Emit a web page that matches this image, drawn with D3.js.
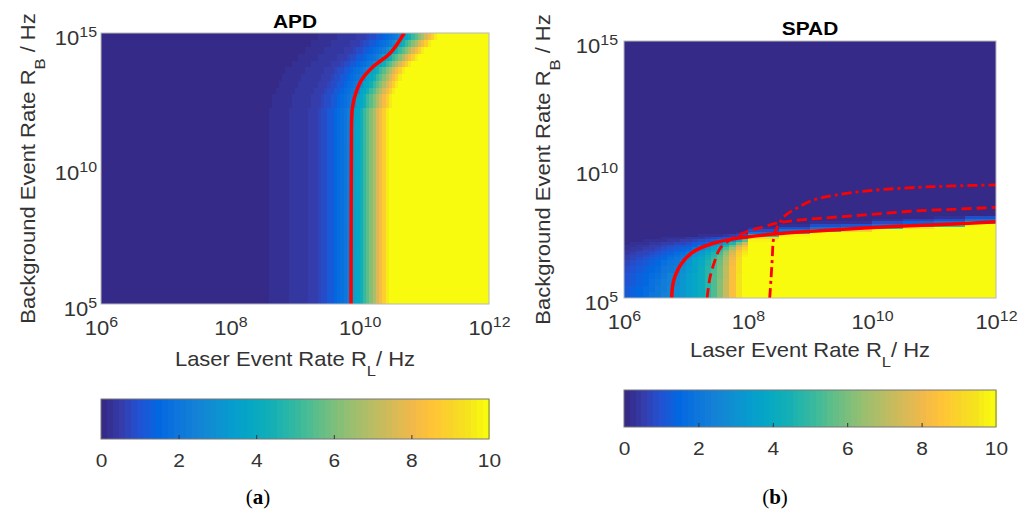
<!DOCTYPE html>
<html>
<head>
<meta charset="utf-8">
<script src="https://cdn.jsdelivr.net/npm/d3@7"></script>
<style>
  body { margin: 0; background: #fff; }
  svg text { font-family: "Liberation Sans", Arial, Helvetica, sans-serif; fill: #333; }
</style>
</head>
<body>
<svg id="fig" width="1027" height="513"></svg>
<script>
// ---- DATA (all positions are log10 of the rate in Hz) ----

// APD: colour value across R_L, in 0.05 decade steps starting at 10^8
var APD_PROFILE_START = 8.0;
var APD_PROFILE_STEP = 0.05;
var APD_PROFILE = [
  0, 0, 0, 0, 0, 0,
  0.05, 0.05, 0.05, 0.05, 0.05, 0.05,
  0.24, 0.24, 0.24, 0.24, 0.24, 0.24,
  0.4, 0.4, 0.4, 0.4, 0.4, 0.4,
  0.55, 0.55, 0.6, 0.75, 0.8, 0.85,
  1.1, 1.2, 1.5, 1.65, 1.8, 1.95,
  2.3, 2.8, 3.6, 3.9, 4.3, 5.0,
  5.5, 6.2, 6.8, 7.5, 8.2, 8.9,
  9.6, 10, 10, 10, 10, 10, 10, 10, 10, 10, 10, 10
];
// APD rows of R_B and how many 0.05 decade steps each row is pushed to the right
var APD_ROW_EDGES = [5, 12.25, 12.5, 12.75, 13, 13.25, 13.5, 13.75, 14, 14.25, 14.5, 14.75, 15];
var APD_ROW_SHIFT = [0, 1, 1, 2, 3, 4, 5, 7, 9, 11, 13, 15];
// APD red contour
var APD_LINE_RL = [9.866, 9.868, 9.872, 9.877, 9.89, 9.94, 10.03, 10.21, 10.469, 10.69];
var APD_LINE_RB = [5.0, 8.0, 10.5, 11.85, 12.28, 12.78, 13.27, 13.76, 14.25, 15.0];

// SPAD grid: column / row edges, then one list per column (bottom -> top), missing = 0
var SPAD_COL_EDGES = [6.0, 6.1, 6.2, 6.3, 6.4, 6.5, 6.6, 6.7, 6.8, 6.9, 7.0, 7.1, 7.2, 7.3, 7.4, 7.5, 7.6, 7.7, 7.8, 7.9,
  8.0, 8.5, 9.0, 9.5, 10.0, 10.5, 11.0, 11.5, 12.0];
var SPAD_ROW_EDGES = [5.0, 5.25, 5.5, 5.75, 6.0, 6.25, 6.5, 6.6, 6.7, 6.8, 6.9, 7.0, 7.1, 7.2, 7.3, 7.4, 7.5, 7.6,
  7.7, 7.8, 7.9, 8.0, 8.1, 8.2, 15];
var SPAD_VALUES = [
  [1.2, 1.15, 1.05, 0.95, 0.85, 0.72, 0.6, 0.52, 0.45, 0.36, 0.28, 0.2, 0.13, 0.07, 0.03],
  [1.35, 1.3, 1.2, 1.1, 0.98, 0.84, 0.72, 0.63, 0.55, 0.45, 0.35, 0.26, 0.17, 0.1, 0.05],
  [1.5, 1.45, 1.35, 1.25, 1.12, 0.97, 0.84, 0.75, 0.65, 0.54, 0.43, 0.32, 0.22, 0.13, 0.06],
  [1.7, 1.65, 1.55, 1.45, 1.3, 1.12, 0.98, 0.88, 0.77, 0.64, 0.52, 0.4, 0.28, 0.17, 0.08],
  [1.9, 1.85, 1.75, 1.65, 1.5, 1.3, 1.15, 1.03, 0.9, 0.76, 0.62, 0.48, 0.34, 0.21, 0.1],
  [2.1, 2.05, 1.95, 1.85, 1.7, 1.5, 1.33, 1.2, 1.05, 0.9, 0.74, 0.57, 0.41, 0.26, 0.13, 0.05],
  [2.35, 2.3, 2.2, 2.1, 1.93, 1.72, 1.53, 1.38, 1.22, 1.05, 0.87, 0.68, 0.49, 0.31, 0.16, 0.06],
  [2.6, 2.55, 2.45, 2.35, 2.15, 1.93, 1.73, 1.57, 1.4, 1.2, 1.0, 0.8, 0.58, 0.37, 0.19, 0.07],
  [2.9, 2.85, 2.75, 2.5, 2.25, 2.05, 1.9, 1.75, 1.6, 1.4, 1.18, 0.95, 0.7, 0.45, 0.23, 0.08],
  [3.2, 3.2, 3.15, 3.1, 2.9, 2.5, 2.15, 1.95, 1.75, 1.55, 1.3, 1.05, 0.78, 0.5, 0.26, 0.09],
  [3.5, 3.5, 3.5, 3.45, 3.35, 3.2, 2.95, 2.5, 2.1, 1.8, 1.5, 1.2, 0.9, 0.6, 0.35, 0.12],
  [3.8, 3.8, 3.8, 3.75, 3.7, 3.6, 3.45, 3.25, 3.0, 2.5, 2.0, 1.5, 1.1, 0.7, 0.4, 0.15],
  [4.2, 4.2, 4.2, 4.15, 4.1, 4.0, 3.85, 3.65, 3.4, 3.0, 2.5, 1.9, 1.3, 0.8, 0.45, 0.18],
  [4.8, 4.8, 4.8, 4.75, 4.7, 4.6, 4.45, 4.25, 4.0, 3.6, 3.1, 2.5, 1.7, 1.0, 0.55, 0.2],
  [5.4, 5.4, 5.4, 5.35, 5.3, 5.2, 5.0, 4.8, 4.55, 4.2, 3.7, 3.1, 2.3, 1.4, 0.7, 0.28, 0.08],
  [6.1, 6.1, 6.1, 6.05, 6.0, 5.9, 5.7, 5.5, 5.25, 4.9, 4.4, 3.6, 2.6, 1.6, 0.8, 0.3, 0.1],
  [7.2, 7.2, 7.2, 7.15, 7.1, 7.0, 6.85, 6.65, 6.4, 6.0, 5.4, 4.6, 3.6, 2.1, 1.0, 0.4, 0.12],
  [8.4, 8.4, 8.4, 8.35, 8.3, 8.2, 8.05, 7.85, 7.6, 7.2, 6.6, 5.8, 4.6, 2.6, 1.2, 0.5, 0.15],
  [9.4, 9.4, 9.4, 9.4, 9.35, 9.3, 9.2, 9.05, 8.85, 8.5, 8.0, 7.2, 6.0, 4.2, 2.0, 0.7, 0.2],
  [10, 10, 10, 10, 10, 9.95, 9.9, 9.8, 9.65, 9.4, 9.0, 8.4, 7.4, 5.6, 2.8, 1.0, 0.3],
  [10, 10, 10, 10, 10, 10, 10, 10, 10, 10, 10, 10, 10, 9.8, 9.2, 5, 2, 0.8, 0.2],
  [10, 10, 10, 10, 10, 10, 10, 10, 10, 10, 10, 10, 10, 10, 10, 9.8, 5, 2, 0.8, 0.2],
  [10, 10, 10, 10, 10, 10, 10, 10, 10, 10, 10, 10, 10, 10, 10, 10, 10, 5, 2, 0.8, 0.2],
  [10, 10, 10, 10, 10, 10, 10, 10, 10, 10, 10, 10, 10, 10, 10, 10, 10, 9, 3.5, 1.2, 0.3],
  [10, 10, 10, 10, 10, 10, 10, 10, 10, 10, 10, 10, 10, 10, 10, 10, 10, 10, 5, 2, 0.8, 0.2],
  [10, 10, 10, 10, 10, 10, 10, 10, 10, 10, 10, 10, 10, 10, 10, 10, 10, 10, 9.5, 4, 1.5, 0.5],
  [10, 10, 10, 10, 10, 10, 10, 10, 10, 10, 10, 10, 10, 10, 10, 10, 10, 10, 10, 5, 2, 0.8, 0.2],
  [10, 10, 10, 10, 10, 10, 10, 10, 10, 10, 10, 10, 10, 10, 10, 10, 10, 10, 10, 10, 5, 2, 0.8]
];
// SPAD red curves
var SPAD_SOLID_RL = [6.77, 6.78, 6.82, 6.93, 7.12, 7.44, 7.82, 8.41, 9.16, 10.24, 11.31, 12.0];
var SPAD_SOLID_RB = [5.0, 5.4, 5.83, 6.35, 6.80, 7.13, 7.32, 7.49, 7.62, 7.77, 7.88, 7.97];
var SPAD_DASH_RL = [7.34, 7.39, 7.47, 7.55, 7.71, 7.98, 8.25, 8.46, 8.73, 9.16, 9.70, 10.24, 10.77, 11.31, 12.0];
var SPAD_DASH_RB = [5.0, 5.83, 6.48, 6.93, 7.26, 7.58, 7.77, 7.91, 8.01, 8.10, 8.20, 8.30, 8.40, 8.45, 8.53];
var SPAD_DASHDOT_RL = [8.35, 8.37, 8.39, 8.41, 8.45, 8.52, 8.61, 8.73, 9.05, 9.43, 9.97, 10.77, 11.31, 12.0];
var SPAD_DASHDOT_RB = [5.0, 5.70, 6.48, 7.26, 7.65, 7.97, 8.23, 8.42, 8.81, 9.01, 9.18, 9.31, 9.36, 9.40];

var X_TICKS = [1e6, 1e8, 1e10, 1e12];
var Y_TICKS = [1e5, 1e10, 1e15];
var CBAR_TICKS = [0, 2, 4, 6, 8, 10];

// MATLAB parula, every third entry of the 64 colour map
var PARULA = ["#352a87", "#353dad", "#2053d4", "#0268e1", "#0d75dc", "#1481d6", "#108ed2", "#079ccf",
  "#06a7c6", "#0faeb9", "#25b5a9", "#42bb98", "#65be86", "#87bf77", "#a5be6b", "#c0bc60", "#d9ba56",
  "#f1b94a", "#ffc337", "#fad32a", "#f5e41d", "#f9fb0e"];
// END OF DATA

var STRETCH = "scale(1.1,1)";   // the figure's text is a bit wider than plain Arial

var svg = d3.select("#fig");
var cmap = d3.scaleQuantize().domain([0, 10])
    .range(d3.quantize(d3.piecewise(d3.interpolateRgb, PARULA), 64));

// build the cell tables
var apdCells = [];
for (var r = 0; r < APD_ROW_EDGES.length - 1; r++) {
  for (var c = 0; c < 120; c++) {
    var x0 = 6 + c * APD_PROFILE_STEP;
    var k = Math.round((x0 - APD_PROFILE_START) / APD_PROFILE_STEP) - APD_ROW_SHIFT[r];
    k = Math.max(0, Math.min(APD_PROFILE.length - 1, k));
    apdCells.push({x0: x0, x1: x0 + APD_PROFILE_STEP, y0: APD_ROW_EDGES[r], y1: APD_ROW_EDGES[r + 1], v: APD_PROFILE[k]});
  }
}

var spadCells = [];
SPAD_VALUES.forEach(function(col, c) {
  for (var r = 0; r < SPAD_ROW_EDGES.length - 1; r++) {
    spadCells.push({x0: SPAD_COL_EDGES[c], x1: SPAD_COL_EDGES[c + 1], y0: SPAD_ROW_EDGES[r], y1: SPAD_ROW_EDGES[r + 1],
      v: r < col.length ? col[r] : 0});
  }
});

function pts(xs, ys) { return xs.map(function(v, i) { return [v, ys[i]]; }); }

function powLabel(sel) {
  sel.each(function(d) {
    var t = d3.select(this), e = Math.round(Math.log10(d));
    t.text(null);
    t.append("tspan").text("10");
    t.append("tspan").attr("dy", "-8").attr("font-size", "14.5px").text(e);
  });
}

function subText(t, parts) {
  // parts: [main, sub, rest]
  t.append("tspan").text(parts[0]);
  t.append("tspan").attr("font-size", "15px").attr("dy", 10).text(parts[1]);
  t.append("tspan").attr("dy", -10).text(parts[2]);
}

// text placed at x,y and widened a little
function wideText(x, y, extra) {
  return svg.append("g").attr("transform", "translate(" + x + "," + y + ")" + (extra || ""))
    .append("text").attr("transform", STRETCH);
}

// MAIN PANEL FUNCTION
function drawPanel(p) {
  var x = d3.scaleLog().domain([1e6, 1e12]).range([p.left, p.right]);
  var y = d3.scaleLog().domain([1e5, 1e15]).range([p.bottom, p.top]);

  svg.append("clipPath").attr("id", "clip-" + p.name)
    .append("rect").attr("x", p.left).attr("y", p.top)
    .attr("width", p.right - p.left).attr("height", p.bottom - p.top);

  var plot = svg.append("g").attr("clip-path", "url(#clip-" + p.name + ")");

  plot.append("g").attr("shape-rendering", "crispEdges")
    .selectAll("rect").data(p.cells).enter().append("rect")
      .attr("x", function(d) { return x(Math.pow(10, d.x0)); })
      .attr("y", function(d) { return y(Math.pow(10, d.y1)); })
      .attr("width", function(d) { return x(Math.pow(10, d.x1)) - x(Math.pow(10, d.x0)) + 0.5; })
      .attr("height", function(d) { return y(Math.pow(10, d.y0)) - y(Math.pow(10, d.y1)) + 0.5; })
      .attr("fill", function(d) { return cmap(d.v); });

  var line = d3.line()
    .x(function(d) { return x(Math.pow(10, d[0])); })
    .y(function(d) { return y(Math.pow(10, d[1])); })
    .curve(d3.curveCatmullRom.alpha(0.5));

  p.lines.forEach(function(l) {
    plot.append("path").attr("d", line(l.data))
      .attr("fill", "none").attr("stroke", "#ff0000")
      .attr("stroke-width", l.width)
      .attr("stroke-dasharray", l.dash || null);
  });

  // axes box
  svg.append("rect").attr("x", p.left).attr("y", p.top)
    .attr("width", p.right - p.left).attr("height", p.bottom - p.top)
    .attr("fill", "none").attr("stroke", "#b8b8b8").attr("stroke-width", 1);

  var xa = svg.append("g").attr("transform", "translate(0," + p.bottom + ")")
    .call(d3.axisBottom(x).tickValues(X_TICKS).tickSize(0));
  xa.select(".domain").remove();
  xa.selectAll(".tick text").attr("dy", null).attr("y", 31).attr("transform", STRETCH)
    .attr("font-size", "20px").attr("fill", "#333").call(powLabel);

  var ya = svg.append("g").attr("transform", "translate(" + p.left + ",0)")
    .call(d3.axisLeft(y).tickValues(Y_TICKS).tickSize(0));
  ya.select(".domain").remove();
  ya.selectAll(".tick text").attr("dy", null).attr("y", 11).attr("x", -p.ylabPad / 1.1).attr("transform", STRETCH)
    .attr("font-size", "20px").attr("fill", "#333").call(powLabel);

  // title
  wideText((p.left + p.right) / 2, p.titleY)
    .attr("text-anchor", "middle").attr("font-size", "19px").attr("font-weight", "bold")
    .style("fill", "#000").text(p.name);

  // axis labels
  var xl = wideText((p.left + p.right) / 2, p.xlabY)
    .attr("text-anchor", "middle").attr("font-size", "20px");
  subText(xl, ["Laser Event Rate R", "L", "/ Hz"]);

  var yl = wideText(p.ylabX, (p.top + p.bottom) / 2, " rotate(-90)")
    .attr("text-anchor", "middle").attr("font-size", "20px");
  subText(yl, ["Background Event Rate R", "B", " / Hz"]);

  // colorbar
  var cb = d3.scaleLinear().domain([0, 10]).range([p.left, p.right]);
  var steps = cmap.range();
  svg.append("g").attr("shape-rendering", "crispEdges")
    .selectAll("rect").data(steps).enter().append("rect")
      .attr("x", function(d) { return cb(cmap.invertExtent(d)[0]); })
      .attr("y", p.cbTop)
      .attr("width", function(d) { var e = cmap.invertExtent(d); return cb(e[1]) - cb(e[0]) + 0.6; })
      .attr("height", p.cbBottom - p.cbTop)
      .attr("fill", function(d) { return d; });
  svg.append("rect").attr("x", p.left).attr("y", p.cbTop)
    .attr("width", p.right - p.left).attr("height", p.cbBottom - p.cbTop)
    .attr("fill", "none").attr("stroke", "#777").attr("stroke-width", 1);

  var ca = svg.append("g").attr("transform", "translate(0," + p.cbBottom + ")")
    .call(d3.axisBottom(cb).tickValues(CBAR_TICKS).tickSize(0));
  ca.select(".domain").remove();
  ca.selectAll(".tick text").attr("dy", null).attr("y", 28).attr("transform", STRETCH)
    .attr("font-size", "19px").attr("fill", "#333");
  ca.selectAll(".tick").filter(function(d) { return d > 0 && d < 10; })
    .append("line").attr("y1", 0).attr("y2", -4).attr("stroke", "#333");

  // panel letter
  var lt = svg.append("text").attr("x", p.letterX).attr("y", 504).attr("text-anchor", "middle")
    .style("font-family", "'Liberation Serif', 'Times New Roman', serif").attr("font-size", "21px")
    .style("fill", "#000");
  lt.append("tspan").text("(");
  lt.append("tspan").attr("font-weight", "bold").text(p.letter);
  lt.append("tspan").text(")");
}

drawPanel({
  name: "APD", letter: "a", cells: apdCells,
  left: 101, right: 489, top: 33, bottom: 304,
  titleY: 28, xlabY: 366, ylabX: 35, ylabPad: 4,
  cbTop: 399, cbBottom: 439, letterX: 258,
  lines: [{data: pts(APD_LINE_RL, APD_LINE_RB), width: 3.5}]
});

drawPanel({
  name: "SPAD", letter: "b", cells: spadCells,
  left: 624, right: 996, top: 41, bottom: 298,
  titleY: 35, xlabY: 357, ylabX: 550, ylabPad: 6,
  cbTop: 390, cbBottom: 427, letterX: 775,
  lines: [
    {data: pts(SPAD_SOLID_RL, SPAD_SOLID_RB), width: 3.5},
    {data: pts(SPAD_DASH_RL, SPAD_DASH_RB), width: 2.8, dash: "10,5"},
    {data: pts(SPAD_DASHDOT_RL, SPAD_DASHDOT_RB), width: 2.8, dash: "10,4,3,4"}
  ]
});
</script>
</body>
</html>
